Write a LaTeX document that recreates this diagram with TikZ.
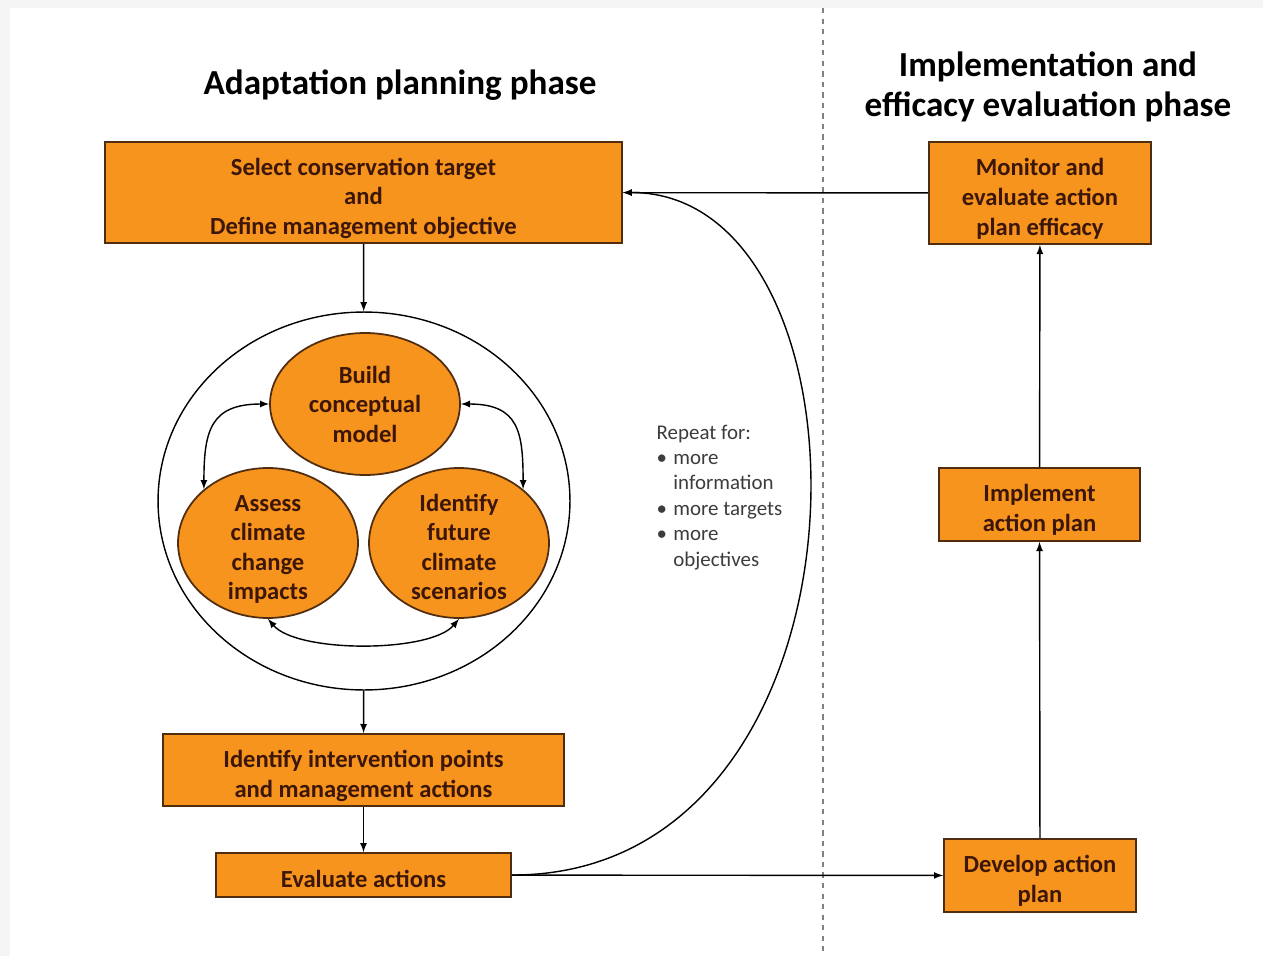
\documentclass[tikz,border=0pt]{standalone}
\usepackage{fontspec}
\setmainfont{Carlito}
\usetikzlibrary{arrows,shapes}
\definecolor{boxorange}{RGB}{247,148,29}
\definecolor{boxline}{RGB}{80,45,15}
\definecolor{boxtext}{RGB}{60,22,8}
\definecolor{remarktext}{RGB}{60,60,60}
\tikzstyle{block} = [rectangle, draw=boxline, fill=boxorange, line width=1pt,
    text=boxtext, align=center, inner sep=0pt, text depth=0pt, text height=31.1pt,
    font=\fontsize{14}{17}\selectfont\bfseries]
\tikzstyle{bubble} = [ellipse, draw=boxline, fill=boxorange, line width=1pt,
    text=boxtext, align=center, inner xsep=0pt, inner ysep=-8pt, text depth=0pt,
    text height=64.5pt, font=\fontsize{14}{16.8}\selectfont\bfseries]
\tikzstyle{outerring} = [ellipse, draw, fill=white, line width=0.8pt]
\tikzstyle{phase} = [align=center, font=\fontsize{20}{23.2}\selectfont\bfseries]
\tikzstyle{remark} = [align=left, text=remarktext, inner sep=0pt,
    font=\fontsize{11.9}{14.5}\selectfont]
\newcommand{\itm}{\makebox[0.8em][l]{\textbullet}}

\begin{document}
\begin{tikzpicture}[->,>=latex,x=0.02cm,y=-0.02cm,line width=0.8pt]
  \fill[-,gray!8] (0,0) rectangle (1263,956);
  \fill[-,white] (10,8) rectangle (1263,956);
  \useasboundingbox (0,0) rectangle (1263,956);
  \draw[-,gray,dashed,line width=1pt] (823,8) -- (823,956);

  \node[phase]  (11) at (400,85)  {Adaptation planning phase};
  \node[phase]  (12) at (1048,87) {Implementation and\\efficacy evaluation phase};

  \node[block,minimum width=10.34cm,minimum height=2.02cm,text height=48.1pt] (1) at (363.5,192.5)
        {Select conservation target\\and\\Define management objective};
  \node[outerring,minimum width=8.24cm,minimum height=7.56cm] (2) at (364,501) {};
  \node[bubble,minimum width=3.8cm,minimum height=2.84cm,text height=43.7pt] (3) at (365,404)
        {Build\\conceptual\\model};
  \node[bubble,minimum width=3.6cm,minimum height=3cm]    (4) at (268,543)
        {Assess\\climate\\change\\impacts};
  \node[bubble,minimum width=3.6cm,minimum height=3cm]    (5) at (459,543)
        {Identify\\future\\climate\\scenarios};
  \node[block,minimum width=8.02cm,minimum height=1.44cm] (6) at (363.5,770)
        {Identify intervention points\\and management actions};
  \node[block,minimum width=5.9cm,minimum height=0.88cm,text height=14.1pt]  (7) at (363.5,875)
        {Evaluate actions};
  \node[block,minimum width=3.84cm,minimum height=1.46cm] (8) at (1040,875.5)
        {Develop action\\plan};
  \node[block,minimum width=4.02cm,minimum height=1.46cm] (9) at (1039.5,504.5)
        {Implement\\action plan};
  \node[block,minimum width=4.44cm,minimum height=2.04cm,text height=48.1pt] (10) at (1040,193)
        {Monitor and\\evaluate action\\plan efficacy};
  \node[remark,anchor=north west] (13) at (656,424)
        {Repeat for:\\\itm more\\\hspace{0.8em}information\\\itm more targets\\\itm more\\\hspace{0.8em}objectives};

  \path (1) edge (2)
        (2) edge (6)
        (6) edge (7)
        (7) edge (8)
        (8) edge (9)
        (9) edge (10)
        (10) edge (1);
  \draw (7.east) .. controls (888,876) and (888,192) .. (1.east);

  \draw[<->] (3.west) to[out=180,in=90,looseness=1.4] (4.140);
  \draw[<->] (3.east) to[out=0,in=90,looseness=1.4] (5.40);
  \draw[<->] (4.south) to[out=-50,in=-130,looseness=0.6] (5.south);
\end{tikzpicture}
\end{document}
